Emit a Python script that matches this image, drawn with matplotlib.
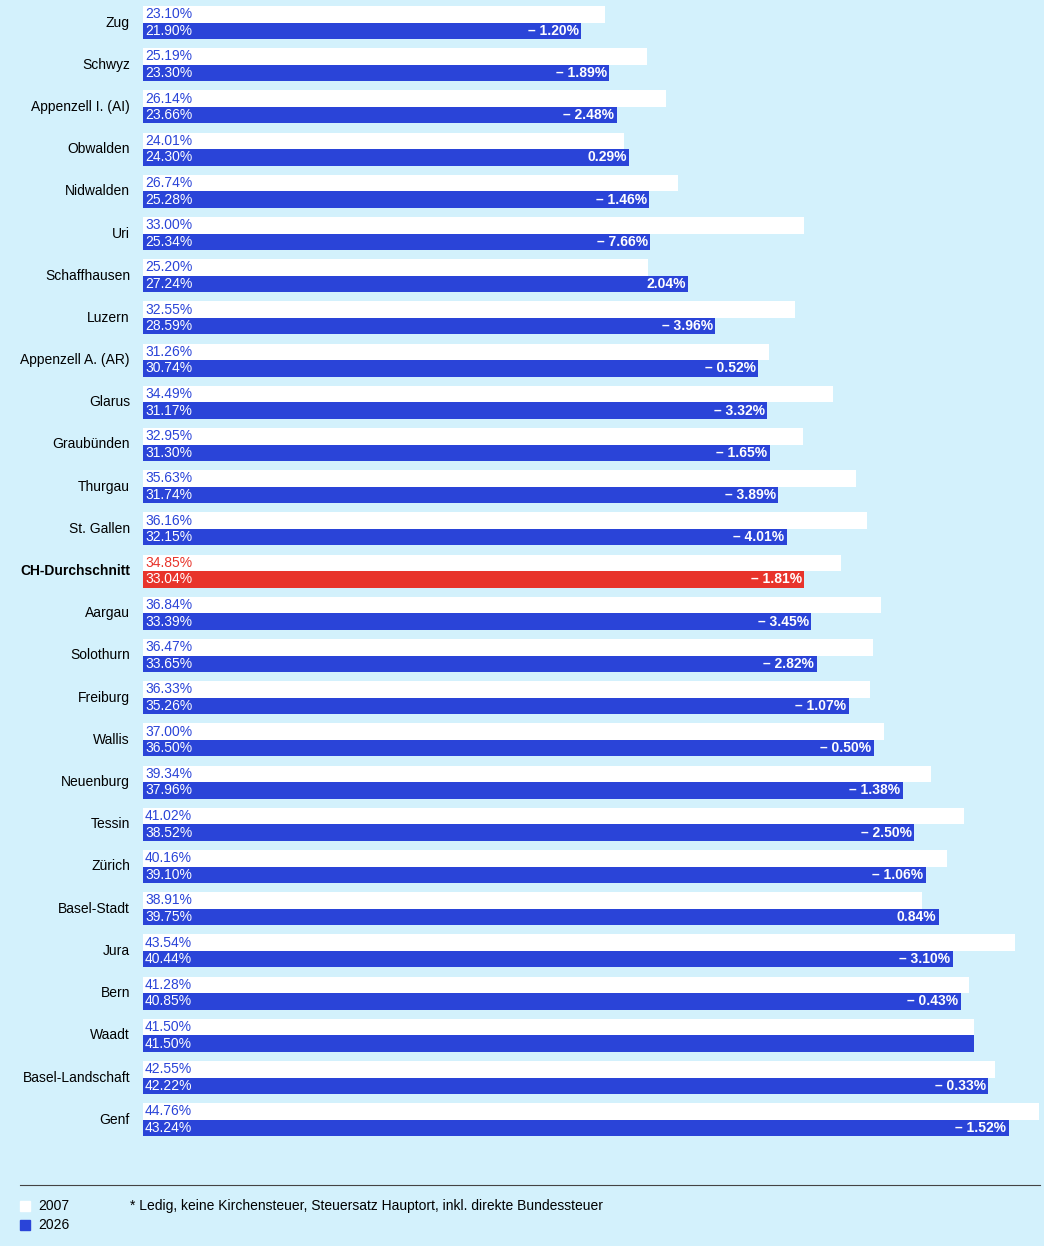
import matplotlib
matplotlib.use("Agg")
import matplotlib.pyplot as plt

plt.rcParams['font.family'] = ['Liberation Sans', 'DejaVu Sans']

cantons = ["Zug","Schwyz","Appenzell I. (AI)","Obwalden","Nidwalden","Uri","Schaffhausen","Luzern",
           "Appenzell A. (AR)","Glarus","Graubünden","Thurgau","St. Gallen","CH-Durchschnitt","Aargau",
           "Solothurn","Freiburg","Wallis","Neuenburg","Tessin","Zürich","Basel-Stadt","Jura","Bern",
           "Waadt","Basel-Landschaft","Genf"]
v2007 = [23.10,25.19,26.14,24.01,26.74,33.00,25.20,32.55,31.26,34.49,32.95,35.63,36.16,34.85,36.84,
         36.47,36.33,37.00,39.34,41.02,40.16,38.91,43.54,41.28,41.50,42.55,44.76]
v2026 = [21.90,23.30,23.66,24.30,25.28,25.34,27.24,28.59,30.74,31.17,31.30,31.74,32.15,33.04,33.39,
         33.65,35.26,36.50,37.96,38.52,39.10,39.75,40.44,40.85,41.50,42.22,43.24]

BG = "#d3f1fc"; BLUE = "#2a44d8"; RED = "#e8342b"
W, H = 1044, 1246
fig = plt.figure(figsize=(W/100, H/100), dpi=100, facecolor=BG)
ax = fig.add_axes([143/W, 1-1140/H, 1-143/W, 1140/H])
ax.set_facecolor(BG)
pitch = 42.2
ax.set_xlim(0, (W-143)/20.02)
ax.set_ylim((1140-22.5)/pitch, -22.5/pitch)
ax.axis('off')
h = 16.5/pitch
for i, (c, a, b) in enumerate(zip(cantons, v2007, v2026)):
    ch = c == "CH-Durchschnitt"
    col = RED if ch else BLUE
    ax.barh(i - h/2, a, height=h, color="white", linewidth=0)
    ax.barh(i + h/2, b, height=h, color=col, linewidth=0)
    ax.text(0.1, i - h/2, f"{a:.2f}%", color=col, va='center', ha='left', fontsize=10)
    ax.text(0.1, i + h/2, f"{b:.2f}%", color='white', va='center', ha='left', fontsize=10)
    d = round(b - a, 2)
    if abs(d) > 0.001:
        lab = f"– {abs(d):.2f}%" if d < 0 else f"{d:.2f}%"
        ax.text(b - 0.12, i + h/2, lab, color='white', va='center', ha='right', fontsize=10, fontweight='bold')
    fig.text(130/W, 1-(22.5+pitch*i)/H, c, ha='right', va='center', fontsize=10,
             fontweight='bold' if ch else 'normal', color='black')

fig.add_artist(plt.Line2D([20/W, 1040/W], [1-1185/H, 1-1185/H], color='#444444', lw=0.8))
for y, col, t in [(1206, "white", "2007"), (1225, BLUE, "2026")]:
    fig.add_artist(plt.Rectangle((20/W, 1-(y+5)/H), 10/W, 10/H, color=col, transform=fig.transFigure))
    fig.text(38/W, 1-y/H, t, va='center', ha='left', fontsize=10)
fig.text(130/W, 1-1206/H, "* Ledig, keine Kirchensteuer, Steuersatz Hauptort, inkl. direkte Bundessteuer",
         va='center', ha='left', fontsize=10)
fig.savefig("out.png", dpi=100, facecolor=BG)
